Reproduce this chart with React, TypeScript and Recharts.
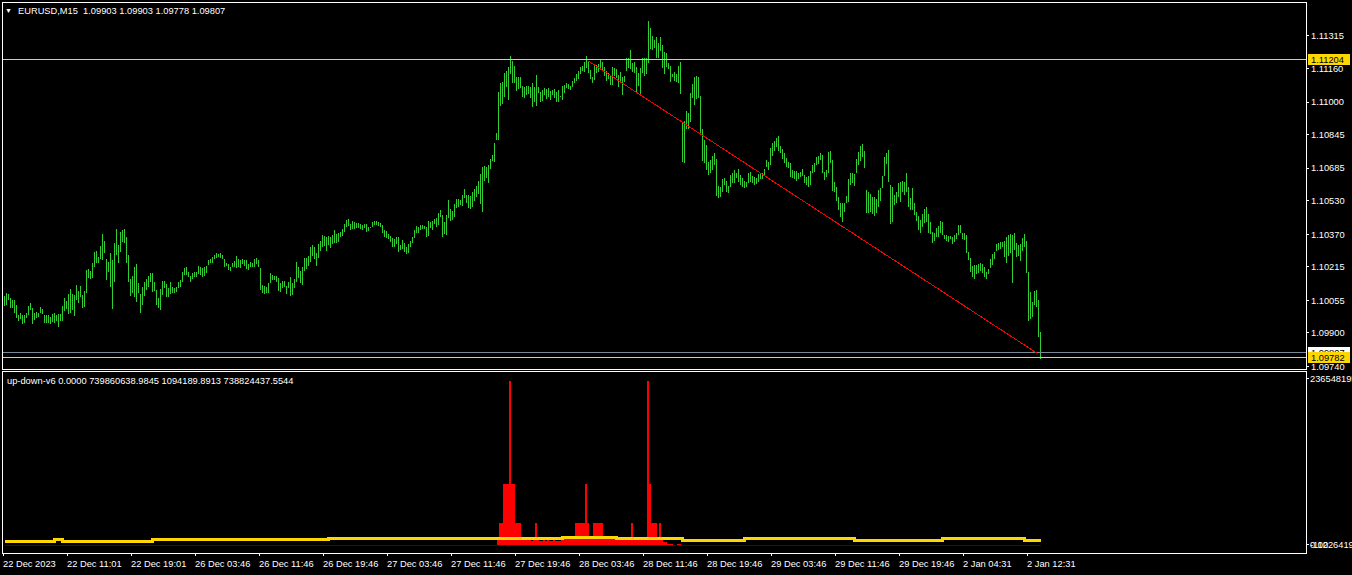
import React from 'react';
import { ComposedChart, Bar, Line, XAxis, YAxis, ReferenceLine } from 'recharts';

const FONT = '"Liberation Sans", Arial, sans-serif';
const BAR_GREEN = '#32CD32';
const GOLD = '#FFD700';

// EURUSD M15 bars, oldest first (high / low)
const barHigh = [
  1.10076, 1.10091, 1.10086, 1.10067, 1.10057, 1.10057, 1.10033, 1.09985, 1.09995, 1.09985,
  1.09985, 1.09995, 1.10028, 1.10043, 1.10019, 1.09995, 1.09999, 1.09995, 1.10024, 1.10014,
  1.09985, 1.09985, 1.09985, 1.09976, 1.09990, 1.09995, 1.09985, 1.09990, 1.09990, 1.10028,
  1.10067, 1.10052, 1.10086, 1.10109, 1.10086, 1.10081, 1.10128, 1.10100, 1.10123, 1.10081,
  1.10100, 1.10200, 1.10205, 1.10195, 1.10234, 1.10285, 1.10290, 1.10262, 1.10314, 1.10372,
  1.10338, 1.10252, 1.10238, 1.10281, 1.10248, 1.10329, 1.10395, 1.10319, 1.10381, 1.10391,
  1.10395, 1.10358, 1.10271, 1.10157, 1.10171, 1.10215, 1.10229, 1.10138, 1.10086, 1.10119,
  1.10142, 1.10157, 1.10171, 1.10186, 1.10186, 1.10142, 1.10105, 1.10067, 1.10109, 1.10147,
  1.10147, 1.10133, 1.10114, 1.10142, 1.10119, 1.10114, 1.10119, 1.10142, 1.10152, 1.10190,
  1.10210, 1.10215, 1.10190, 1.10171, 1.10186, 1.10190, 1.10190, 1.10219, 1.10215, 1.10210,
  1.10215, 1.10219, 1.10248, 1.10252, 1.10262, 1.10271, 1.10281, 1.10276, 1.10281, 1.10271,
  1.10252, 1.10234, 1.10229, 1.10215, 1.10234, 1.10243, 1.10266, 1.10252, 1.10248, 1.10252,
  1.10248, 1.10248, 1.10229, 1.10238, 1.10234, 1.10252, 1.10257, 1.10248, 1.10210, 1.10128,
  1.10123, 1.10119, 1.10138, 1.10186, 1.10176, 1.10171, 1.10171, 1.10162, 1.10138, 1.10147,
  1.10147, 1.10123, 1.10142, 1.10167, 1.10138, 1.10157, 1.10238, 1.10215, 1.10195, 1.10215,
  1.10257, 1.10257, 1.10266, 1.10310, 1.10319, 1.10310, 1.10281, 1.10324, 1.10338, 1.10367,
  1.10362, 1.10358, 1.10362, 1.10358, 1.10367, 1.10391, 1.10372, 1.10377, 1.10381, 1.10395,
  1.10419, 1.10438, 1.10443, 1.10419, 1.10433, 1.10428, 1.10424, 1.10424, 1.10419, 1.10414,
  1.10419, 1.10419, 1.10405, 1.10405, 1.10428, 1.10433, 1.10433, 1.10428, 1.10424, 1.10414,
  1.10391, 1.10386, 1.10372, 1.10362, 1.10353, 1.10348, 1.10358, 1.10358, 1.10319, 1.10343,
  1.10329, 1.10310, 1.10324, 1.10338, 1.10358, 1.10391, 1.10409, 1.10405, 1.10414, 1.10414,
  1.10409, 1.10405, 1.10433, 1.10428, 1.10433, 1.10443, 1.10448, 1.10472, 1.10486, 1.10462,
  1.10428, 1.10462, 1.10533, 1.10490, 1.10481, 1.10514, 1.10538, 1.10538, 1.10533, 1.10557,
  1.10586, 1.10557, 1.10557, 1.10552, 1.10571, 1.10586, 1.10600, 1.10624, 1.10657, 1.10691,
  1.10695, 1.10691, 1.10700, 1.10729, 1.10748, 1.10805, 1.10853, 1.11047, 1.11091, 1.11095,
  1.11139, 1.11148, 1.11167, 1.11219, 1.11195, 1.11171, 1.11120, 1.11120, 1.11120, 1.11076,
  1.11072, 1.11076, 1.11076, 1.11072, 1.11091, 1.11072, 1.11129, 1.11072, 1.11047, 1.11057,
  1.11067, 1.11062, 1.11067, 1.11052, 1.11057, 1.11062, 1.11047, 1.11057, 1.11028, 1.11076,
  1.11081, 1.11091, 1.11086, 1.11076, 1.11100, 1.11115, 1.11134, 1.11148, 1.11167, 1.11171,
  1.11190, 1.11219, 1.11190, 1.11153, 1.11120, 1.11181, 1.11176, 1.11181, 1.11200, 1.11190,
  1.11167, 1.11148, 1.11139, 1.11129, 1.11167, 1.11162, 1.11157, 1.11129, 1.11143, 1.11120,
  1.11124, 1.11210, 1.11210, 1.11248, 1.11186, 1.11190, 1.11167, 1.11139, 1.11162, 1.11210,
  1.11210, 1.11210, 1.11386, 1.11353, 1.11315, 1.11295, 1.11310, 1.11281, 1.11310, 1.11271,
  1.11238, 1.11234, 1.11186, 1.11171, 1.11134, 1.11143, 1.11134, 1.11171, 1.11190, 1.10904,
  1.10909, 1.10957, 1.10948, 1.11043, 1.11086, 1.11120, 1.11124, 1.11120, 1.11028, 1.10871,
  1.10819, 1.10795, 1.10714, 1.10724, 1.10743, 1.10758, 1.10729, 1.10600, 1.10596, 1.10633,
  1.10638, 1.10624, 1.10600, 1.10652, 1.10662, 1.10676, 1.10662, 1.10681, 1.10652, 1.10638,
  1.10624, 1.10619, 1.10662, 1.10667, 1.10648, 1.10643, 1.10638, 1.10657, 1.10662, 1.10662,
  1.10681, 1.10724, 1.10714, 1.10781, 1.10805, 1.10814, 1.10829, 1.10838, 1.10790, 1.10776,
  1.10758, 1.10734, 1.10714, 1.10710, 1.10676, 1.10671, 1.10671, 1.10662, 1.10667, 1.10681,
  1.10652, 1.10643, 1.10648, 1.10671, 1.10700, 1.10710, 1.10739, 1.10743, 1.10758, 1.10748,
  1.10667, 1.10676, 1.10762, 1.10767, 1.10724, 1.10619, 1.10596, 1.10548, 1.10519, 1.10519,
  1.10519, 1.10552, 1.10633, 1.10662, 1.10662, 1.10657, 1.10729, 1.10762, 1.10790, 1.10800,
  1.10767, 1.10581, 1.10571, 1.10562, 1.10548, 1.10548, 1.10538, 1.10581, 1.10591, 1.10648,
  1.10739, 1.10758, 1.10772, 1.10605, 1.10596, 1.10557, 1.10571, 1.10615, 1.10619, 1.10624,
  1.10619, 1.10662, 1.10596, 1.10543, 1.10591, 1.10519, 1.10476, 1.10457, 1.10438, 1.10467,
  1.10490, 1.10500, 1.10467, 1.10428, 1.10381, 1.10377, 1.10400, 1.10409, 1.10433, 1.10428,
  1.10367, 1.10367, 1.10362, 1.10362, 1.10358, 1.10367, 1.10377, 1.10414, 1.10414, 1.10377,
  1.10377, 1.10367, 1.10285, 1.10257, 1.10219, 1.10224, 1.10224, 1.10229, 1.10234, 1.10229,
  1.10215, 1.10190, 1.10205, 1.10252, 1.10276, 1.10285, 1.10324, 1.10329, 1.10333, 1.10333,
  1.10338, 1.10358, 1.10367, 1.10372, 1.10367, 1.10377, 1.10329, 1.10319, 1.10324, 1.10353,
  1.10372, 1.10338, 1.10190, 1.10095, 1.10047, 1.10100, 1.10105, 1.10057, 1.09903,
];

const barLow = [
  1.10028, 1.10033, 1.10057, 1.10019, 1.10019, 1.09995, 1.09971, 1.09957, 1.09966, 1.09943,
  1.09948, 1.09971, 1.09985, 1.10009, 1.09943, 1.09962, 1.09971, 1.09976, 1.09995, 1.09990,
  1.09948, 1.09948, 1.09948, 1.09943, 1.09952, 1.09948, 1.09957, 1.09929, 1.09957, 1.09957,
  1.10004, 1.10014, 1.09990, 1.09995, 1.10009, 1.09980, 1.10057, 1.10043, 1.10072, 1.10019,
  1.10024, 1.10091, 1.10162, 1.10157, 1.10162, 1.10215, 1.10234, 1.10234, 1.10252, 1.10248,
  1.10281, 1.10152, 1.10190, 1.10119, 1.10014, 1.10142, 1.10271, 1.10234, 1.10285, 1.10333,
  1.10329, 1.10234, 1.10142, 1.10076, 1.10091, 1.10072, 1.10047, 1.10091, 1.09995, 1.10033,
  1.10076, 1.10105, 1.10119, 1.10142, 1.10095, 1.10100, 1.10033, 1.10019, 1.10009, 1.10081,
  1.10114, 1.10072, 1.10072, 1.10086, 1.10091, 1.10091, 1.10095, 1.10114, 1.10119, 1.10142,
  1.10176, 1.10176, 1.10167, 1.10142, 1.10157, 1.10167, 1.10167, 1.10181, 1.10176, 1.10167,
  1.10171, 1.10186, 1.10224, 1.10234, 1.10234, 1.10252, 1.10257, 1.10262, 1.10257, 1.10252,
  1.10215, 1.10219, 1.10200, 1.10195, 1.10215, 1.10215, 1.10210, 1.10215, 1.10210, 1.10229,
  1.10219, 1.10205, 1.10200, 1.10215, 1.10215, 1.10215, 1.10229, 1.10215, 1.10105, 1.10091,
  1.10086, 1.10091, 1.10091, 1.10138, 1.10152, 1.10152, 1.10142, 1.10100, 1.10095, 1.10114,
  1.10119, 1.10086, 1.10114, 1.10076, 1.10081, 1.10114, 1.10142, 1.10162, 1.10138, 1.10128,
  1.10195, 1.10205, 1.10219, 1.10238, 1.10266, 1.10252, 1.10219, 1.10257, 1.10290, 1.10310,
  1.10314, 1.10290, 1.10319, 1.10305, 1.10324, 1.10329, 1.10329, 1.10333, 1.10358, 1.10362,
  1.10381, 1.10405, 1.10409, 1.10391, 1.10395, 1.10395, 1.10400, 1.10400, 1.10395, 1.10391,
  1.10400, 1.10381, 1.10386, 1.10400, 1.10405, 1.10414, 1.10414, 1.10409, 1.10405, 1.10377,
  1.10358, 1.10353, 1.10348, 1.10333, 1.10310, 1.10310, 1.10324, 1.10285, 1.10295, 1.10300,
  1.10285, 1.10276, 1.10281, 1.10310, 1.10329, 1.10353, 1.10377, 1.10377, 1.10391, 1.10395,
  1.10395, 1.10358, 1.10362, 1.10400, 1.10391, 1.10419, 1.10405, 1.10414, 1.10453, 1.10358,
  1.10372, 1.10367, 1.10448, 1.10433, 1.10438, 1.10453, 1.10495, 1.10500, 1.10509, 1.10504,
  1.10543, 1.10519, 1.10495, 1.10490, 1.10500, 1.10528, 1.10548, 1.10562, 1.10514, 1.10476,
  1.10624, 1.10638, 1.10615, 1.10681, 1.10719, 1.10714, 1.10819, 1.10819, 1.10981, 1.10991,
  1.11024, 1.11072, 1.11010, 1.11134, 1.11091, 1.11091, 1.11052, 1.11062, 1.11067, 1.11024,
  1.11019, 1.11033, 1.11038, 1.11019, 1.10977, 1.11000, 1.10981, 1.11043, 1.11000, 1.11005,
  1.11033, 1.11014, 1.11024, 1.11010, 1.11033, 1.11019, 1.11000, 1.11000, 1.11024, 1.11010,
  1.11043, 1.11067, 1.11062, 1.11057, 1.11072, 1.11091, 1.11100, 1.11110, 1.11134, 1.11148,
  1.11143, 1.11162, 1.11139, 1.11110, 1.11091, 1.11105, 1.11139, 1.11143, 1.11157, 1.11153,
  1.11124, 1.11100, 1.11110, 1.11081, 1.11081, 1.11124, 1.11115, 1.11072, 1.11091, 1.11033,
  1.11095, 1.11148, 1.11162, 1.11157, 1.11143, 1.11139, 1.11047, 1.11076, 1.11028, 1.11139,
  1.11124, 1.11134, 1.11186, 1.11253, 1.11248, 1.11257, 1.11210, 1.11210, 1.11243, 1.11162,
  1.11134, 1.11167, 1.11157, 1.11095, 1.11120, 1.11100, 1.11095, 1.11091, 1.11038, 1.10714,
  1.10710, 1.10871, 1.10871, 1.10904, 1.11019, 1.10986, 1.11014, 1.11019, 1.10853, 1.10719,
  1.10710, 1.10676, 1.10652, 1.10662, 1.10676, 1.10700, 1.10552, 1.10543, 1.10548, 1.10571,
  1.10605, 1.10571, 1.10567, 1.10596, 1.10615, 1.10615, 1.10638, 1.10619, 1.10605, 1.10596,
  1.10591, 1.10596, 1.10615, 1.10619, 1.10615, 1.10605, 1.10610, 1.10619, 1.10633, 1.10633,
  1.10648, 1.10691, 1.10676, 1.10700, 1.10743, 1.10767, 1.10786, 1.10767, 1.10758, 1.10729,
  1.10710, 1.10691, 1.10686, 1.10643, 1.10638, 1.10633, 1.10624, 1.10633, 1.10643, 1.10648,
  1.10615, 1.10605, 1.10596, 1.10605, 1.10662, 1.10667, 1.10700, 1.10705, 1.10724, 1.10662,
  1.10629, 1.10643, 1.10662, 1.10710, 1.10576, 1.10571, 1.10528, 1.10486, 1.10453, 1.10428,
  1.10476, 1.10519, 1.10523, 1.10605, 1.10615, 1.10600, 1.10662, 1.10700, 1.10719, 1.10739,
  1.10686, 1.10472, 1.10472, 1.10476, 1.10467, 1.10457, 1.10472, 1.10500, 1.10528, 1.10591,
  1.10648, 1.10705, 1.10619, 1.10419, 1.10428, 1.10509, 1.10519, 1.10548, 1.10523, 1.10571,
  1.10557, 1.10571, 1.10500, 1.10486, 1.10486, 1.10462, 1.10433, 1.10391, 1.10377, 1.10405,
  1.10424, 1.10428, 1.10377, 1.10372, 1.10329, 1.10338, 1.10358, 1.10358, 1.10377, 1.10367,
  1.10348, 1.10338, 1.10333, 1.10348, 1.10324, 1.10333, 1.10348, 1.10367, 1.10377, 1.10348,
  1.10343, 1.10281, 1.10248, 1.10190, 1.10167, 1.10157, 1.10181, 1.10186, 1.10195, 1.10186,
  1.10167, 1.10157, 1.10181, 1.10210, 1.10224, 1.10252, 1.10290, 1.10295, 1.10300, 1.10310,
  1.10262, 1.10234, 1.10266, 1.10281, 1.10138, 1.10295, 1.10262, 1.10266, 1.10243, 1.10290,
  1.10310, 1.10186, 1.09957, 1.09966, 1.09976, 1.10033, 1.10024, 1.09881, 1.09778,
];

const priceTicks = [1.11315, 1.1116, 1.11, 1.10845, 1.10685, 1.1053, 1.1037, 1.10215, 1.10055, 1.099, 1.0974];

const timeLabels = [
  '22 Dec 2023', '22 Dec 11:01', '22 Dec 19:01', '26 Dec 03:46', '26 Dec 11:46', '26 Dec 19:46',
  '27 Dec 03:46', '27 Dec 11:46', '27 Dec 19:46', '28 Dec 03:46', '28 Dec 11:46', '28 Dec 19:46',
  '29 Dec 03:46', '29 Dec 11:46', '29 Dec 19:46', '2 Jan 04:31', '2 Jan 12:31',
];

// horizontal lines and price tags
const levelHigh = 1.11204;
const bidPrice = 1.09807;
const levelLow = 1.09782;

// trend line: [bar, price]
const trendStart = [292, 1.11195];
const trendEnd = [516, 1.09805];

// up-down-v6 histogram, starting at bar 247
const histStart = 247;
const histValues = [
  11400000, 31350000, 31350000, 86920000, 86920000, 86920000, 233700000, 86920000, 86920000,
  31350000, 31350000, 31350000, 11400000, 11400000, 11400000, 11400000, 11400000,
  5700000, 11400000, 31350000, 11400000, 5700000, 5700000, 11400000, 5700000, 11400000,
  5700000, 5700000, 11400000, 5700000, 5700000, 5700000,
  9975000, 9975000, 9975000, 9975000, 9975000, 9975000, 9975000,
  31350000, 31350000, 31350000, 31350000, 31350000, 86920000, 31350000, 9975000, 9975000,
  31350000, 31350000, 31350000, 31350000, 31350000, 9975000, 9975000, 9975000, 9975000,
  11400000, 11400000, 11400000, 7125000, 7125000, 7125000, 7125000, 7125000,
  11400000, 11400000, 31350000, 11400000, 7125000, 7125000, 7125000, 11400000, 7125000, 7125000,
  233700000, 86920000, 31350000, 31350000, 31350000, 11400000, 31350000, 11400000,
  4275000, 4275000, 1425000, 1425000, 1425000, 0, 0, 1425000, 1425000,
];

// signal line: [bar where level starts, value]
const signalSteps = [
  [0, 5700000], [25, 7550000], [29, 5700000], [74, 7550000], [162, 9000000], [279, 11000000],
  [306, 9000000], [339, 7125000], [370, 9000000], [425, 7125000], [469, 9000000], [510, 7125000],
  [518, 7125000],
];

const indTop = 236548195;
const indBottomText = '-112264199';

const X_DOMAIN = [-0.75, 650.75];
const PRICE_DOMAIN = [1.09733, 1.11472];
const IND_DOMAIN = [-11400000, 246520000];

const priceRows = barHigh.map((h, i) => ({ i, hl: [barLow[i], h] }));

const indRows: any[] = barHigh.map((_, i) => {
  const row: any = { i };
  const k = i - histStart;
  if (k >= 0 && k < histValues.length && histValues[k] > 0) row.red = histValues[k];
  return row;
});
signalSteps.forEach(([i, v]) => { indRows[i].yellow = v; });
indRows[0].blue = 0;
indRows[indRows.length - 1].blue = 0;

const timeTicks = timeLabels.map((_, k) => k * 32 - 0.5);

const priceTag = (props: any, text: string, bg: string) => {
  const vb = props && props.viewBox;
  if (!vb) return null;
  const x = vb.x + vb.width + 2;
  const y = vb.y;
  return (
    <g>
      <rect x={x} y={y - 5.5} width={42} height={11} fill={bg} />
      <text x={x + 3} y={y + 3.5} fill="#000" fontSize={9.3} fontFamily={FONT}>{text}</text>
    </g>
  );
};

// histogram column: 2px wide, centred on the bar slot, so neighbours join up
const HistColumn = (props: any) => {
  const { x, y, width, height, fill } = props;
  if (!height || height <= 0) return null;
  const cx = x + width / 2;
  return <rect x={cx - 1.25} y={y} width={2.5} height={height} fill={fill} />;
};

const TimeTick = (props: any) => {
  const { x, y, index } = props;
  return (
    <text x={x - 0.5} y={y + 8.5} fill="#fff" fontSize={9.3} fontFamily={FONT} textAnchor="start">
      {timeLabels[index]}
    </text>
  );
};

const IndTick = (props: any) => {
  const { x, y, payload } = props;
  if (payload.value === 0) {
    return (
      <g>
        <text x={x - 1} y={y + 3.5} fill="#fff" fontSize={9.3} fontFamily={FONT}>{indBottomText}</text>
        <text x={x - 1} y={y + 3.5} fill="#fff" fontSize={9.3} fontFamily={FONT}>0.00</text>
      </g>
    );
  }
  return (
    <text x={x - 1} y={y + 3.5} fill="#fff" fontSize={9.3} fontFamily={FONT}>{String(indTop)}</text>
  );
};

const frame = (top: number, height: number): React.CSSProperties => ({
  position: 'absolute', left: 2, top, width: 1305, height, border: '1px solid #fff', boxSizing: 'border-box',
});

const App: React.FC = () => {
  return (
    <div style={{ position: 'absolute', left: 0, top: 0, width: 1352, height: 575, background: '#000', overflow: 'hidden', shapeRendering: 'crispEdges' } as any}>
      <div style={frame(2, 368)} />
      <div style={frame(371, 183)} />

      <div style={{ position: 'absolute', left: 0, top: 0 }}>
        <ComposedChart width={1352} height={575} data={indRows} margin={{ top: 372, right: 0, bottom: 0, left: 3 }}>
          <XAxis dataKey="i" type="number" domain={X_DOMAIN} allowDataOverflow ticks={timeTicks} interval={0}
            axisLine={false} tickLine={{ stroke: '#fff' }} tickSize={3} tickMargin={2} tick={<TimeTick />} height={22} />
          <YAxis orientation="right" width={46} domain={IND_DOMAIN} allowDataOverflow ticks={[indTop, 0]} interval={0}
            axisLine={false} tickLine={{ stroke: '#fff' }} tickSize={3} tickMargin={2} tick={<IndTick />} />
          <Bar dataKey="red" fill="#FF0000" barSize={1} shape={<HistColumn />} isAnimationActive={false} />
          <Line dataKey="blue" type="linear" stroke="#0000CD" strokeWidth={1} dot={false} connectNulls isAnimationActive={false} />
          <Line dataKey="yellow" type="stepAfter" stroke={GOLD} strokeWidth={3} dot={false} connectNulls isAnimationActive={false} />
        </ComposedChart>
      </div>

      <div style={{ position: 'absolute', left: 0, top: 0 }}>
        <ComposedChart width={1352} height={372} data={priceRows} margin={{ top: 3, right: 0, bottom: 4, left: 3 }}>
          <XAxis dataKey="i" type="number" domain={X_DOMAIN} allowDataOverflow hide />
          <YAxis orientation="right" width={46} domain={PRICE_DOMAIN} allowDataOverflow ticks={priceTicks} interval={0}
            axisLine={false} tickLine={{ stroke: '#fff' }} tickSize={3} tickMargin={2}
            tick={{ fill: '#fff', fontSize: 9.3, fontFamily: FONT }} tickFormatter={(v: number) => v.toFixed(5)} />
          <Bar dataKey="hl" fill={BAR_GREEN} barSize={1} isAnimationActive={false} />
          <ReferenceLine y={levelHigh} stroke={GOLD} label={(p: any) => priceTag(p, levelHigh.toFixed(5), GOLD)} />
          <ReferenceLine y={bidPrice} stroke="#778899" label={(p: any) => priceTag(p, bidPrice.toFixed(5), '#fff')} />
          <ReferenceLine y={levelLow} stroke={GOLD} label={(p: any) => priceTag(p, levelLow.toFixed(5), GOLD)} />
          <ReferenceLine segment={[{ x: trendStart[0], y: trendStart[1] }, { x: trendEnd[0], y: trendEnd[1] }]} stroke="#FF0000" />
        </ComposedChart>
      </div>

      <div style={{ position: 'absolute', left: 5, top: 5, height: 12, lineHeight: '12px', color: '#fff', fontFamily: FONT, fontSize: 9.3, whiteSpace: 'pre' }}>
        <span style={{ fontSize: 7, position: 'relative', top: -1 }}>▼</span>
        <span style={{ position: 'absolute', left: 13 }}>EURUSD,M15  1.09903 1.09903 1.09778 1.09807</span>
      </div>
      <div style={{ position: 'absolute', left: 7, top: 375, height: 12, lineHeight: '12px', color: '#fff', fontFamily: FONT, fontSize: 9.3, whiteSpace: 'pre' }}>
        up-down-v6 0.0000 739860638.9845 1094189.8913 738824437.5544
      </div>
    </div>
  );
};

export default App;
